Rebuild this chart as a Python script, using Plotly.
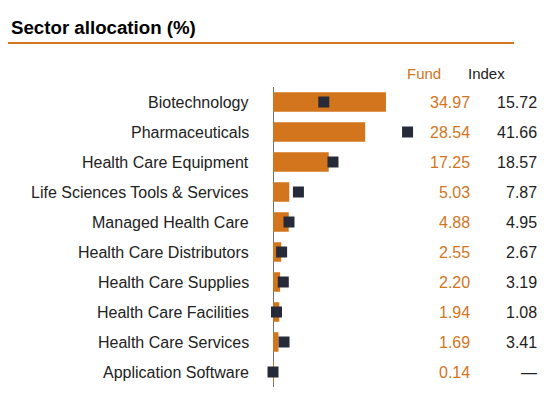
import plotly.graph_objects as go

sectors = ["Biotechnology", "Pharmaceuticals", "Health Care Equipment",
           "Life Sciences Tools & Services", "Managed Health Care",
           "Health Care Distributors", "Health Care Supplies",
           "Health Care Facilities", "Health Care Services", "Application Software"]
fund = [34.97, 28.54, 17.25, 5.03, 4.88, 2.55, 2.20, 1.94, 1.69, 0.14]
index = [15.72, 41.66, 18.57, 7.87, 4.95, 2.67, 3.19, 1.08, 3.41, None]
fund_labels = ["34.97", "28.54", "17.25", "5.03", "4.88", "2.55", "2.20", "1.94", "1.69", "0.14"]
index_labels = ["15.72", "41.66", "18.57", "7.87", "4.95", "2.67", "3.19", "1.08", "3.41", "—"]

ORANGE = "#D2751C"
NAVY = "#272A38"
TEXT = "#222222"
FONT = "Liberation Sans, Arial, sans-serif"

index_plot = [v if v is not None else 0 for v in index]

# page has an 8px body margin; work in reference-pixel coordinates
OFF = 8
W, H = 557 - OFF, 398 - OFF - 8
L = 273 - OFF
T = 87 - OFF
ph = 300
B = H - T - ph
R = 10
pw = W - L - R
SCALE = 3.23  # px per percentage point


def px(xr):
    return (xr - OFF - L) / pw


def py(yr):
    return (H - (yr - OFF) - B) / ph


fig = go.Figure()
fig.add_trace(go.Bar(
    x=fund, y=sectors, orientation="h", width=0.65,
    marker=dict(color=ORANGE, line=dict(width=0)),
    hoverinfo="skip", cliponaxis=False,
))
fig.add_trace(go.Scatter(
    x=index_plot, y=sectors, mode="markers",
    marker=dict(symbol="square", size=11, color=NAVY, line=dict(width=0)),
    hoverinfo="skip", cliponaxis=False,
))

annotations = []
for s, fl, il in zip(sectors, fund_labels, index_labels):
    annotations.append(dict(x=px(472), y=s, xref="paper", yref="y", text=fl, showarrow=False,
                            xanchor="right", yanchor="middle",
                            font=dict(family=FONT, size=16, color=ORANGE)))
    annotations.append(dict(x=px(539), y=s, xref="paper", yref="y", text=il, showarrow=False,
                            xanchor="right", yanchor="middle",
                            font=dict(family=FONT, size=16, color=TEXT)))
    annotations.append(dict(x=px(251), y=s, xref="paper", yref="y", text=s, showarrow=False,
                            xanchor="right", yanchor="middle",
                            font=dict(family=FONT, size=16, color=TEXT)))

annotations.append(dict(x=px(443), y=py(73), xref="paper", yref="paper", text="Fund",
                        showarrow=False, xanchor="right", yanchor="middle",
                        font=dict(family=FONT, size=15, color=ORANGE)))
annotations.append(dict(x=px(507), y=py(73), xref="paper", yref="paper", text="Index",
                        showarrow=False, xanchor="right", yanchor="middle",
                        font=dict(family=FONT, size=15, color=TEXT)))
annotations.append(dict(x=px(9), y=py(27), xref="paper", yref="paper",
                        text="<b>Sector allocation (%)</b>",
                        showarrow=False, xanchor="left", yanchor="middle",
                        font=dict(family=FONT, size=18.7, color="#000000")))

fig.update_layout(
    width=W, height=H,
    margin=dict(l=L, r=R, t=T, b=B, pad=0),
    paper_bgcolor="white", plot_bgcolor="white",
    showlegend=False,
    xaxis=dict(range=[0, pw / SCALE], visible=False, fixedrange=True),
    yaxis=dict(range=[len(sectors) - 0.5, -0.5], showticklabels=False, ticks="",
               showgrid=False, zeroline=False, showline=False, fixedrange=True),
    annotations=annotations,
    shapes=[
        dict(type="line", xref="paper", yref="paper",
             x0=px(8), x1=px(514), y0=py(43), y1=py(43),
             line=dict(color=ORANGE, width=2)),
        dict(type="line", xref="x", yref="paper", x0=0, x1=0, y0=0, y1=1,
             line=dict(color="#111111", width=1.2), layer="below"),
    ],
)

fig.write_html("out.html")
